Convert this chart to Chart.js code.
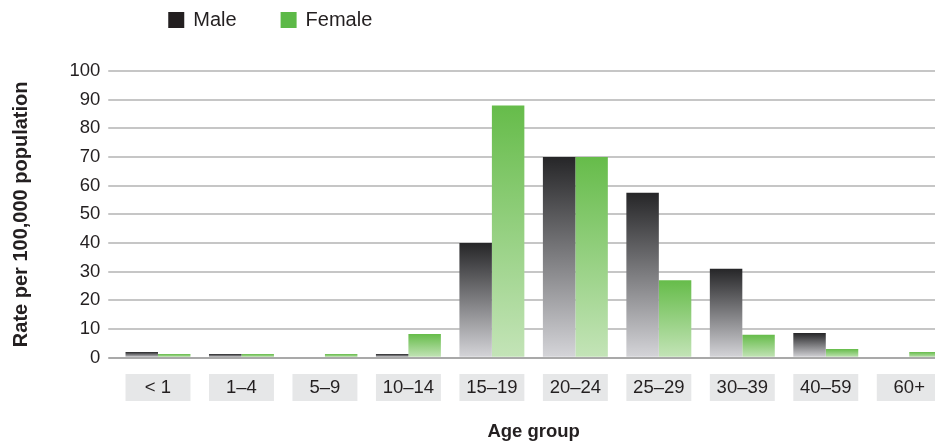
<!DOCTYPE html>
<html>
<head>
<meta charset="utf-8">
<title>Rate per 100,000 population by age group</title>
<script src="https://cdn.jsdelivr.net/npm/chart.js@4/dist/chart.umd.min.js"></script>
<style>
  html, body { margin: 0; padding: 0; overflow: hidden; background: #ffffff; }
  #wrap { position: relative; width: 960px; height: 447px; }
</style>
</head>
<body>
<div id="wrap"><canvas id="chart"></canvas></div>
<script>
// Age groups along the x axis
const ageGroups = ['< 1', '1–4', '5–9', '10–14', '15–19', '20–24', '25–29', '30–39', '40–59', '60+'];
// Rates per 100,000 population
const maleRates = [2.0, 1.3, 0, 1.3, 40, 70, 57.5, 31, 8.6, 0];
const femaleRates = [1.3, 1.3, 1.3, 8.3, 88, 70, 27, 8, 3, 2];
// Y axis tick values
const yTickValues = [0, 10, 20, 30, 40, 50, 60, 70, 80, 90, 100];

const FONT = '"Liberation Sans", Arial, sans-serif';
const TEXT = '#231f20';
const CAT_PCT = 0.778;

// Vertical gradient per bar: strong colour at the top fading to pale at the base
function barGradient(topColor, baseColor) {
  return (context) => {
    const chart = context.chart;
    if (!chart.chartArea || context.type !== 'data' || !chart.scales.y) return topColor;
    const y = chart.scales.y;
    const top = y.getPixelForValue(context.raw);
    const base = y.getPixelForValue(0);
    if (base - top < 1) return topColor;
    const g = chart.ctx.createLinearGradient(0, top, 0, base);
    g.addColorStop(0, topColor);
    g.addColorStop(1, baseColor);
    return g;
  };
}

// Grey panels behind each category label
const labelPanels = {
  id: 'labelPanels',
  beforeDraw(chart) {
    const x = chart.scales.x;
    if (!x || x.ticks.length < 2) return;
    const ctx = chart.ctx;
    const w = (x.getPixelForTick(1) - x.getPixelForTick(0)) * CAT_PCT;
    const top = chart.chartArea.bottom + 16.3;
    ctx.save();
    ctx.fillStyle = '#e6e7e8';
    x.ticks.forEach((t, i) => {
      const cx = x.getPixelForTick(i);
      ctx.fillRect(cx - w / 2, top, w, 27);
    });
    ctx.restore();
  }
};

// Legend row above the plot
const topLegend = {
  id: 'topLegend',
  afterDraw(chart) {
    const ctx = chart.ctx;
    const box = 16;
    let x = chart.chartArea.left + 52;
    const y = 12;
    ctx.save();
    ctx.font = '20px ' + FONT;
    ctx.textBaseline = 'alphabetic';
    ctx.textAlign = 'left';
    chart.data.datasets.forEach(ds => {
      ctx.fillStyle = ds.swatch;
      ctx.fillRect(x, y, box, box);
      ctx.fillStyle = TEXT;
      ctx.fillText(ds.label, x + box + 9, y + 14.3);
      x += box + 9 + ctx.measureText(ds.label).width + 44;
    });
    ctx.restore();
  }
};

new Chart(document.getElementById('chart'), {
  type: 'bar',
  data: {
    labels: ageGroups,
    datasets: [
      {
        label: 'Male',
        data: maleRates,
        swatch: '#231f20',
        backgroundColor: barGradient('#262628', '#d5d5d9'),
        borderWidth: 0,
        categoryPercentage: CAT_PCT,
        barPercentage: 1
      },
      {
        label: 'Female',
        data: femaleRates,
        swatch: '#5cb947',
        backgroundColor: barGradient('#66bc4a', '#c4e4b8'),
        borderWidth: 0,
        categoryPercentage: CAT_PCT,
        barPercentage: 1
      }
    ]
  },
  options: {
    responsive: true,
    maintainAspectRatio: false,
    animation: false,
    layout: { padding: { top: 71, right: 9, left: 0, bottom: 0 } },
    plugins: {
      legend: { display: false },
      tooltip: { enabled: false }
    },
    scales: {
      x: {
        grid: { display: false, drawTicks: false },
        border: { display: false },
        ticks: {
          color: TEXT,
          font: { family: FONT, size: 18.5 },
          padding: 19,
          maxRotation: 0,
          autoSkip: false
        },
        title: {
          display: true,
          text: 'Age group',
          color: TEXT,
          font: { family: FONT, size: 18.5, weight: 'bold' },
          padding: { top: 0, bottom: 4 }
        },
        afterFit: (s) => { s.height = 89.3; }
      },
      y: {
        min: 0,
        max: 100,
        afterBuildTicks: (s) => { s.ticks = yTickValues.map(v => ({ value: v })); },
        grid: {
          color: (c) => (c.tick && c.tick.value === 0) ? '#a9a9a9' : '#c6c6c6',
          lineWidth: 2,
          tickLength: 8
        },
        border: { display: false },
        ticks: {
          color: TEXT,
          font: { family: FONT, size: 18.5 },
          padding: 8,
          autoSkip: false
        },
        title: {
          display: true,
          text: 'Rate per 100,000 population',
          color: TEXT,
          font: { family: FONT, size: 20, weight: 'bold' },
          padding: { top: 9, bottom: 0 }
        },
        afterFit: (s) => { s.width = 116.25; }
      }
    }
  },
  plugins: [labelPanels, topLegend]
});
</script>
</body>
</html>
